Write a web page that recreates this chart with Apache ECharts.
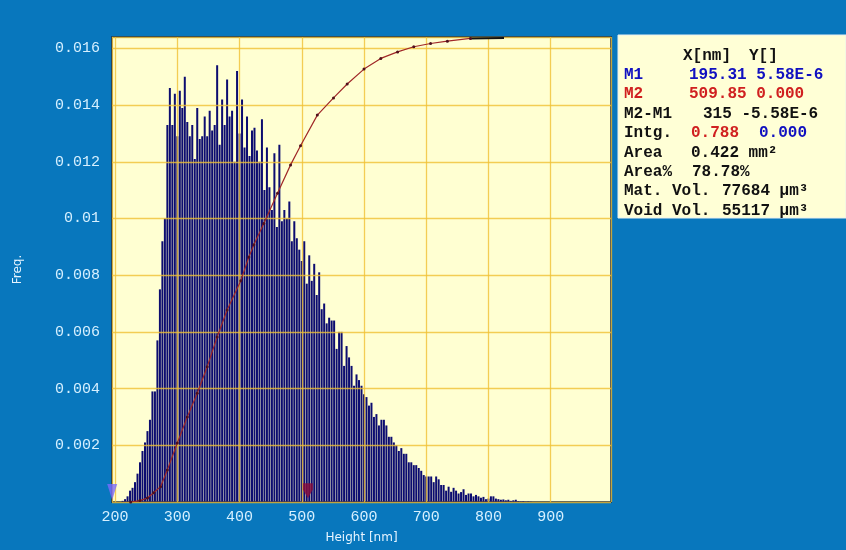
<!DOCTYPE html>
<html><head><meta charset="utf-8">
<script src="https://cdn.jsdelivr.net/npm/echarts@6/dist/echarts.min.js"></script>
<style>html,body{margin:0;padding:0;background:#0877bd;} #c{width:846px;height:550px;}</style>
</head><body><div id="c"></div>
<script>
// Histogram: bin centres start at binStart (nm), bins binWidth nm wide
const binStart = 212, binWidth = 4;
const freq = [
 0.00004,0.0001,0.0002,0.0004,0.0005,0.0007,0.0010,0.0014,0.0018,0.0021,
 0.0025,0.0029,0.0039,0.0039,0.0057,0.0075,0.0092,0.0100,0.0133,0.0146,
 0.0133,0.0144,0.0129,0.0145,0.0139,0.0150,0.0134,0.0129,0.0133,0.0121,
 0.0139,0.0128,0.0129,0.0136,0.0129,0.0138,0.0131,0.0133,0.0154,0.0126,
 0.0142,0.0133,0.0149,0.0136,0.0138,0.0120,0.0152,0.0130,0.0142,0.0125,
 0.0136,0.0122,0.0131,0.0132,0.0124,0.0120,0.0135,0.0110,0.0125,0.0111,
 0.0103,0.0123,0.0097,0.0126,0.0099,0.0103,0.0100,0.0106,0.0092,0.0099,
 0.0093,0.0089,0.0085,0.0092,0.0077,0.0087,0.0078,0.0084,0.0073,0.0081,
 0.0068,0.0070,0.0063,0.0065,0.0064,0.0064,0.0054,0.0060,0.0060,0.0048,
 0.0055,0.0051,0.0048,0.0041,0.0045,0.0043,0.0041,0.0038,0.0037,0.0034,
 0.0035,0.0030,0.0031,0.0027,0.0029,0.0029,0.0027,0.0023,0.0023,0.0021,
 0.0020,0.0018,0.0019,0.0017,0.0017,0.0014,0.0014,0.0013,0.0013,0.0012,
 0.0011,0.00095,0.0009,0.0009,0.0009,0.0007,0.0009,0.0008,0.0006,0.0006,
 0.0004,0.00054,0.00036,0.0005,0.0004,0.0003,0.00035,0.00045,0.00025,0.0003,
 0.0003,0.0002,0.00025,0.0002,0.00015,0.00018,0.0001,0.00012,0.0002,0.0002,
 0.00012,0.0001,0.00008,0.00009,0.00006,0.00008,0.00004,0.00006,0.00008,0.00003,
 0.00002,0.00003,0.00001,0.00002,0.00001
];
// Cumulative (integrated) curve, fraction 0..1
const cumX = [225,240,252,262,273,284,300,316,332,348,364,380,402,415,423,439,461,482,498,525,551,573,600,627,654,680,707,734,771];
const cumY = [0,0.003,0.0086,0.02,0.033,0.069,0.127,0.183,0.234,0.291,0.355,0.413,0.476,0.527,0.553,0.599,0.664,0.725,0.766,0.832,0.869,0.899,0.931,0.954,0.968,0.979,0.986,0.991,0.997];
const plateauX = [771, 825];
const plateauY = [0.997, 0.998];
// Cursor markers M1, M2
const markerX = [195.31, 509.85];
const markerY = [0.00035, 0.0004];
// Info panel
const infoHeader = ['X[nm]', 'Y[]'];
const infoLabels = ['M1','M2','M2-M1','Intg.','Area','Area%','Mat. Vol.','Void Vol.'];
const infoValues = [['195.31 5.58E-6'],['509.85 0.000'],['315 -5.58E-6'],['0.788','0.000'],['0.422 mm\u00B2'],['78.78%'],['77684 \u00B5m\u00B3'],['55117 \u00B5m\u00B3']];

const barData = freq.map((v, i) => [binStart + i * binWidth, v]);
const cumData = cumX.map((x, i) => [x, cumY[i]]);
const platData = plateauX.map((x, i) => [x, plateauY[i]]);

// info panel layout (styles only)
const labelColors = ['#1010c0','#d02020','#111','#111','#111','#111','#111','#111'];
const valueColors = [['#1010c0'],['#d02020'],['#111'],['#d02020','#1010c0'],['#111'],['#111'],['#111'],['#111']];
const valueXs = [[689],[689],[703],[691,759],[691],[692],[722],[722]];
const rowY0 = 75, rowDy = 19.4;
const monoFont = 'bold 16px "Liberation Mono", "Courier New", monospace';
const graphics = [
  { type: 'rect', shape: { x: 618, y: 35, width: 228, height: 183 }, style: { fill: '#ffffd6', stroke: '#e8f0f0', lineWidth: 1 }, z: 10 },
  { type: 'text', x: 683, y: 56, style: { text: infoHeader[0], font: monoFont, fill: '#111', textVerticalAlign: 'middle' }, z: 11 },
  { type: 'text', x: 749, y: 56, style: { text: infoHeader[1], font: monoFont, fill: '#111', textVerticalAlign: 'middle' }, z: 11 }
];
infoLabels.forEach((lab, i) => {
  const y = rowY0 + i * rowDy;
  graphics.push({ type: 'text', x: 624, y, style: { text: lab, font: monoFont, fill: labelColors[i], textVerticalAlign: 'middle' }, z: 11 });
  infoValues[i].forEach((t, j) => {
    graphics.push({ type: 'text', x: valueXs[i][j], y, style: { text: t, font: monoFont, fill: valueColors[i][j], textVerticalAlign: 'middle' }, z: 11 });
  });
});

const chart = echarts.init(document.getElementById('c'), null, { renderer: 'canvas' });
chart.setOption({
  animation: false,
  backgroundColor: '#0877bd',
  grid: { left: 112, top: 37, width: 499, height: 465, show: true, backgroundColor: '#ffffd2', borderColor: '#142038', borderWidth: 1.5 },
  xAxis: {
    type: 'value', min: 195, max: 997, splitNumber: 8, z: 3,
    name: 'Height [nm]', nameLocation: 'middle', nameGap: 30,
    nameTextStyle: { color: '#e6f4ff', fontFamily: 'DejaVu Sans', fontSize: 12 },
    axisLine: { show: false }, axisTick: { show: false },
    axisLabel: { color: '#d6f0ff', fontFamily: 'Liberation Mono', fontSize: 15, margin: 8,
      formatter: v => (Math.abs(v % 100) < 1e-6 ? String(v) : '') },
    splitLine: { show: true, lineStyle: { color: '#f0c034', width: 1.3, opacity: 0.8 } }
  },
  yAxis: [{
    type: 'value', min: 0, max: 0.0164, interval: 0.002, z: 3,
    name: 'Freq.', nameLocation: 'middle', nameGap: 88, nameRotate: 90,
    nameTextStyle: { color: '#e6f4ff', fontFamily: 'DejaVu Sans', fontSize: 12 },
    axisLine: { show: false }, axisTick: { show: false },
    axisLabel: { color: '#d6f0ff', fontFamily: 'Liberation Mono', fontSize: 15, margin: 12,
      formatter: v => { const k = v / 0.002; return (v > 0 && Math.abs(k - Math.round(k)) < 1e-6) ? String(+v.toFixed(3)) : ''; } },
    splitLine: { show: true, lineStyle: { color: '#f0c034', width: 1.3, opacity: 0.8 } }
  }, {
    type: 'value', min: 0, max: 1, show: false, splitLine: { show: false }
  }],
  series: [
    { type: 'bar', data: barData, barWidth: 2, itemStyle: { color: '#0c0c70' }, z: 2 },
    { type: 'line', yAxisIndex: 1, data: cumData, z: 5, symbol: 'circle', symbolSize: 3,
      lineStyle: { color: '#a02828', width: 1.2 }, itemStyle: { color: '#50101c' } },
    { type: 'line', yAxisIndex: 1, data: platData, z: 5, symbol: 'none', lineStyle: { color: '#111', width: 2 } },
    { type: 'scatter', data: [[markerX[0], markerY[0]]], symbol: 'triangle', symbolRotate: 180, symbolSize: [10, 16], clip: false,
      itemStyle: { color: '#7a6cff' }, z: 6 },
    { type: 'scatter', data: [[markerX[1], markerY[1]]], symbol: 'path://M0,0 L10,0 L10,6 L5,14 L0,6 Z', symbolSize: [10, 15], clip: false,
      itemStyle: { color: '#8a0a3a' }, z: 6 }
  ],
  graphic: graphics
});
</script>
</body></html>
